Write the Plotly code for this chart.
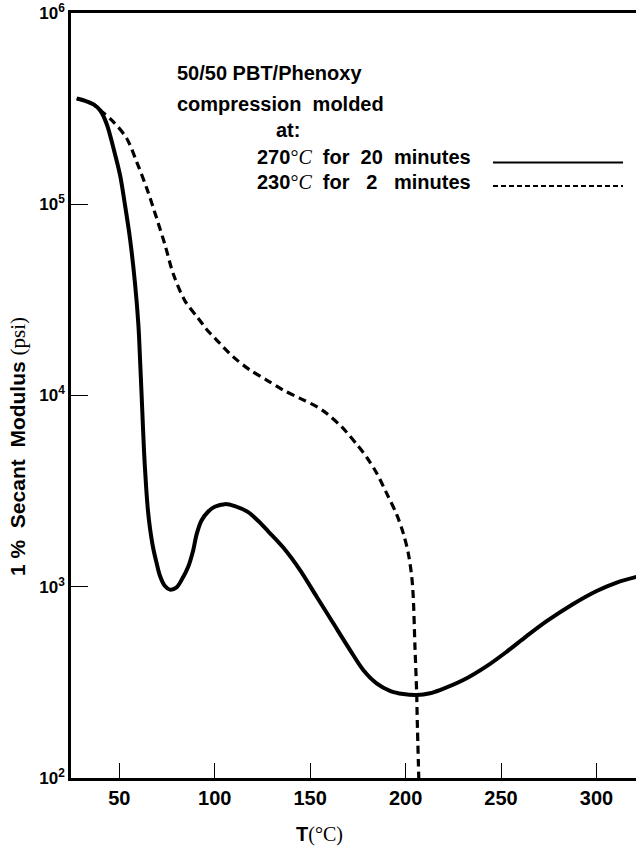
import plotly.graph_objects as go

# ---- data ----
T_270 = [27.7, 32.1, 36.5, 40.0, 43.4, 46.9, 50.4, 53.0, 55.6, 58.2, 60.0, 61.0, 62.0,
         63.0, 64.0, 65.0, 66.1, 67.8, 69.6, 71.2, 73.8, 76.5, 80.0, 82.6, 86.1, 88.7,
         90.4, 93.0, 96.5, 100.0, 105.3, 110.5, 117.5, 122.7, 128.0, 135.9, 144.7,
         153.4, 162.1, 170.9, 177.8, 184.8, 191.8, 198.8, 205.8, 212.8, 218.0, 230.2,
         242.5, 252.9, 263.4, 273.9, 287.8, 300.1, 310.6, 321.0]
LOG_270 = [5.553, 5.541, 5.522, 5.490, 5.420, 5.295, 5.152, 4.995, 4.821, 4.590, 4.370,
           4.160, 3.930, 3.700, 3.530, 3.400, 3.305, 3.200, 3.122, 3.060, 3.005, 2.985,
           2.997, 3.035, 3.105, 3.190, 3.270, 3.345, 3.392, 3.418, 3.432, 3.422, 3.390,
           3.345, 3.290, 3.205, 3.087, 2.948, 2.809, 2.669, 2.565, 2.495, 2.456, 2.439,
           2.434, 2.443, 2.460, 2.512, 2.585, 2.660, 2.742, 2.820, 2.910, 2.978, 3.022,
           3.052]

T_230 = [27.7, 32.1, 36.5, 40.8, 46.9, 53.9, 59.1, 64.4, 69.6, 74.0, 78.3, 84.4, 91.4,
         95.8, 101.0, 109.7, 118.5, 127.2, 135.9, 144.7, 153.4, 158.7, 165.6, 169.1,
         174.4, 179.6, 184.8, 190.1, 195.3, 198.8, 201.4, 203.2, 204.0, 204.9, 205.8,
         206.1, 206.9]
LOG_230 = [5.553, 5.541, 5.522, 5.485, 5.431, 5.344, 5.222, 5.083, 4.926, 4.786, 4.635,
           4.495, 4.403, 4.345, 4.290, 4.202, 4.133, 4.081, 4.028, 3.985, 3.942, 3.906,
           3.845, 3.808, 3.745, 3.677, 3.595, 3.488, 3.378, 3.279, 3.175, 3.053, 2.948,
           2.686, 2.443, 2.304, 2.000]

M_270 = [10 ** v for v in LOG_270]
M_230 = [10 ** v for v in LOG_230]

x_ticks = [50, 100, 150, 200, 250, 300]
y_ticks = [1e2, 1e3, 1e4, 1e5, 1e6]
y_ticktext = ["10<sup>2</sup>", "10<sup>3</sup>", "10<sup>4</sup>", "10<sup>5</sup>", "10<sup>6</sup>"]

SANS = "Liberation Sans"

fig = go.Figure()
fig.add_trace(go.Scatter(x=T_270, y=M_270, mode="lines",
                         line=dict(color="black", width=4, shape="spline", smoothing=0.9),
                         showlegend=False, hoverinfo="skip"))
fig.add_trace(go.Scatter(x=T_230, y=M_230, mode="lines",
                         line=dict(color="black", width=3.2, dash="8px,5px", shape="spline", smoothing=0.9),
                         showlegend=False, hoverinfo="skip"))

W, H = 637, 848
L, R, TOP, B = 71, 1, 13, 70
pw, ph = W - L - R, H - TOP - B

def px(x):
    return (x - L) / pw

def py(y):
    return 1 - (y - TOP) / ph

fig.update_layout(
    width=W, height=H,
    margin=dict(l=L, r=R, t=TOP, b=B),
    paper_bgcolor="white", plot_bgcolor="white",
    font=dict(family=SANS, color="black"),
    xaxis=dict(range=[24.7, 320.7], tickvals=x_ticks, ticks="inside", ticklen=15,
               tickwidth=1, tickcolor="black", showline=True, linewidth=2.5,
               linecolor="black", mirror=True, showgrid=False, zeroline=False,
               tickfont=dict(family=SANS, size=20, color="black", weight="bold")),
    yaxis=dict(type="log", range=[2, 6], tickvals=y_ticks, ticktext=y_ticktext,
               ticks="inside", ticklen=17, tickwidth=1, tickcolor="black",
               showline=True, linewidth=2.5, linecolor="black", showgrid=False,
               zeroline=False,
               tickfont=dict(family=SANS, size=17, color="black", weight="bold")),
)

ann_font = dict(family=SANS, size=20, color="black")
serif_span = '<span style="font-family:Liberation Serif;font-weight:normal">'
anns = [
    dict(text="<b>50/50 PBT/Phenoxy</b>", x=px(175), y=py(73), xanchor="left"),
    dict(text="<b>compression&nbsp; molded</b>", x=px(175), y=py(104), xanchor="left"),
    dict(text="<b>at:</b>", x=px(288), y=py(130), xanchor="center"),
    dict(text="<b>270</b>" + serif_span + "°<i>C</i></span><b>&nbsp;&nbsp;for&nbsp;&nbsp;20&nbsp;&nbsp;minutes</b>",
         x=px(255), y=py(157), xanchor="left"),
    dict(text="<b>230</b>" + serif_span + "°<i>C</i></span><b>&nbsp;&nbsp;for&nbsp;&nbsp;&nbsp;2&nbsp;&nbsp;&nbsp;minutes</b>",
         x=px(255), y=py(182), xanchor="left"),
    dict(text="<b>1 %&nbsp; Secant&nbsp; Modulus</b> " + serif_span + "(psi)</span>",
         x=px(18), y=py(447), xanchor="center", textangle=-90,
         font=dict(family=SANS, size=21, color="black")),
    dict(text="<b>T</b>" + serif_span + "(°C)</span>", x=px(319), y=py(834), xanchor="center"),
]
for a in anns:
    a.setdefault("font", ann_font)
    fig.add_annotation(xref="paper", yref="paper", yanchor="middle", showarrow=False, **a)

fig.add_shape(type="line", xref="paper", yref="paper", x0=px(493), x1=px(623),
              y0=py(162.5), y1=py(162.5), line=dict(color="black", width=2.2))
fig.add_shape(type="line", xref="paper", yref="paper", x0=px(493), x1=px(623),
              y0=py(186), y1=py(186), line=dict(color="black", width=2.2, dash="5px,3px"))

fig.write_html("out.html")
